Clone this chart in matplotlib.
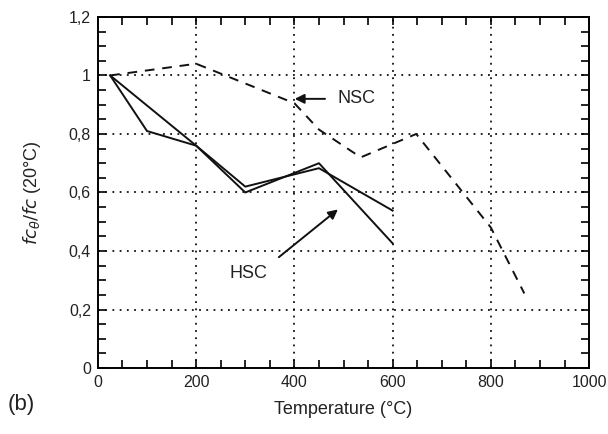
import matplotlib.pyplot as plt
from matplotlib.ticker import MultipleLocator, FuncFormatter

plt.rcParams['font.family'] = ['Liberation Sans', 'DejaVu Sans']

nsc_t = [25, 200, 400, 450, 535, 648, 800, 868]
nsc_r = [1.0, 1.04, 0.905, 0.815, 0.72, 0.80, 0.48, 0.255]

hsc1_t = [25, 100, 200, 300, 450, 600]
hsc1_r = [1.0, 0.81, 0.76, 0.60, 0.70, 0.426]

hsc2_t = [25, 200, 300, 450, 600]
hsc2_r = [1.0, 0.76, 0.62, 0.683, 0.538]

fig = plt.figure(figsize=(6.08, 4.34), dpi=100)
ax = fig.add_axes([0.161, 0.152, 0.808, 0.809])

ax.plot(nsc_t, nsc_r, color='#111', linestyle=(0, (5, 4)), linewidth=1.4)
ax.plot(hsc1_t, hsc1_r, color='#111', linewidth=1.4)
ax.plot(hsc2_t, hsc2_r, color='#111', linewidth=1.4)

ax.set_xlim(0, 1000)
ax.set_ylim(0, 1.2)
ax.xaxis.set_major_locator(MultipleLocator(200))
ax.xaxis.set_minor_locator(MultipleLocator(50))
ax.yaxis.set_major_locator(MultipleLocator(0.2))
ax.yaxis.set_minor_locator(MultipleLocator(0.05))
ax.yaxis.set_major_formatter(FuncFormatter(lambda v, p: ('%g' % round(v, 2)).replace('.', ',')))
ax.tick_params(which='both', direction='in', top=True, right=True, length=6, width=1.2,
               labelsize=11.5, labelcolor='#222', pad=5)
ax.grid(True, which='major', color='#111', linestyle=(0, (1, 3)), linewidth=1.3)
for s in ax.spines.values():
    s.set_linewidth(1.4)

ax.annotate('', xy=(395, 0.92), xytext=(468, 0.92),
            arrowprops=dict(arrowstyle='-|>', color='#111', lw=1.4, mutation_scale=14))
ax.text(488, 0.92, 'NSC', fontsize=13, va='center', ha='left', color='#222')
ax.annotate('', xy=(493, 0.548), xytext=(364, 0.373),
            arrowprops=dict(arrowstyle='-|>', color='#111', lw=1.4, mutation_scale=14))
ax.text(306, 0.324, 'HSC', fontsize=13, va='center', ha='center', color='#222')

ax.set_xlabel('Temperature (°C)', fontsize=13, color='#222')
ax.set_ylabel(r'$fc_{\theta}/fc$ (20°C)', fontsize=13, color='#222')
ax.xaxis.set_label_coords(0.5, -0.095)
ax.yaxis.set_label_coords(-0.112, 0.5)
fig.text(0.012, 0.055, '(b)', fontsize=16, color='#222')

fig.savefig('out.png', dpi=100)
